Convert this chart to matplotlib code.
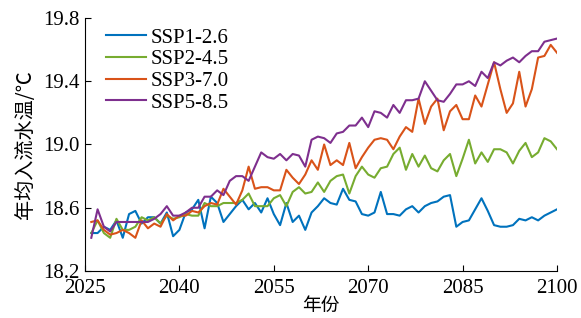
import matplotlib
matplotlib.use("Agg")
import matplotlib.pyplot as plt

years = list(range(2026, 2101))

ssp126 = [18.44, 18.44, 18.48, 18.46, 18.52, 18.41, 18.56, 18.58, 18.50, 18.54,
          18.54, 18.50, 18.57, 18.42, 18.46, 18.57, 18.59, 18.65, 18.47, 18.67,
          18.63, 18.51, 18.56, 18.61, 18.65, 18.59, 18.63, 18.57, 18.66, 18.56,
          18.49, 18.63, 18.51, 18.55, 18.46, 18.57, 18.61, 18.66, 18.63, 18.62,
          18.72, 18.65, 18.64, 18.56, 18.55, 18.57, 18.70, 18.56, 18.56, 18.55,
          18.59, 18.61, 18.57, 18.61, 18.63, 18.64, 18.67, 18.68, 18.48, 18.51,
          18.52, 18.59, 18.66, 18.58, 18.49, 18.48, 18.48, 18.49, 18.53, 18.52,
          18.54, 18.52, 18.55, 18.57, 18.59]

ssp245 = [18.44, 18.52, 18.44, 18.41, 18.53, 18.46, 18.46, 18.48, 18.54, 18.52,
          18.54, 18.50, 18.55, 18.53, 18.54, 18.56, 18.55, 18.55, 18.63, 18.61,
          18.61, 18.63, 18.63, 18.63, 18.65, 18.69, 18.61, 18.61, 18.61, 18.66,
          18.68, 18.61, 18.70, 18.73, 18.69, 18.70, 18.76, 18.70, 18.77, 18.80,
          18.81, 18.69, 18.80, 18.86, 18.81, 18.79, 18.85, 18.86, 18.94, 18.98,
          18.84, 18.94, 18.86, 18.93, 18.85, 18.83, 18.90, 18.94, 18.80, 18.91,
          19.03, 18.88, 18.95, 18.89, 18.97, 18.97, 18.95, 18.88, 18.96, 19.01,
          18.92, 18.95, 19.04, 19.02, 18.97]

ssp370 = [18.51, 18.52, 18.46, 18.43, 18.44, 18.46, 18.44, 18.41, 18.52, 18.47,
          18.50, 18.48, 18.56, 18.52, 18.55, 18.55, 18.58, 18.57, 18.61, 18.63,
          18.62, 18.72, 18.67, 18.62, 18.71, 18.86, 18.72, 18.73, 18.73, 18.71,
          18.71, 18.84, 18.79, 18.75, 18.81, 18.90, 18.84, 19.00, 18.87, 18.90,
          18.87, 19.01, 18.85, 18.92, 18.98, 19.03, 19.04, 19.03, 18.97, 19.05,
          19.11, 19.08, 19.29, 19.13, 19.24, 19.29, 19.09, 19.21, 19.25, 19.16,
          19.16, 19.31, 19.24, 19.38, 19.52, 19.35, 19.20, 19.26, 19.46, 19.24,
          19.35, 19.55, 19.56, 19.63, 19.58]

ssp585 = [18.41, 18.59, 18.48, 18.45, 18.51, 18.51, 18.51, 18.51, 18.51, 18.51,
          18.53, 18.56, 18.61, 18.55, 18.55, 18.57, 18.60, 18.60, 18.67, 18.67,
          18.71, 18.68, 18.77, 18.80, 18.80, 18.77, 18.86, 18.95, 18.92, 18.91,
          18.94, 18.90, 18.94, 18.93, 18.86, 19.03, 19.05, 19.04, 19.01, 19.07,
          19.08, 19.12, 19.12, 19.17, 19.11, 19.21, 19.20, 19.17, 19.25, 19.20,
          19.28, 19.28, 19.29, 19.40, 19.34, 19.28, 19.27, 19.32, 19.38, 19.38,
          19.40, 19.37, 19.46, 19.42, 19.52, 19.50, 19.53, 19.55, 19.52, 19.56,
          19.59, 19.59, 19.65, 19.66, 19.67]

labels = ["SSP1-2.6", "SSP2-4.5", "SSP3-7.0", "SSP5-8.5"]
colors = ["#0072BD", "#77AC30", "#D95319", "#7E2F8E"]

xticks = [2025, 2040, 2055, 2070, 2085, 2100]
yticks = [18.2, 18.6, 19.0, 19.4, 19.8]

plt.rcParams["font.family"] = ["Liberation Serif", "Noto Sans CJK SC"]
plt.rcParams["font.size"] = 15

fig = plt.figure(figsize=(5.81, 3.18), dpi=100)
ax = fig.add_axes([0.1463, 0.1478, 0.8124, 0.7956])

for series, lab, col in zip([ssp126, ssp245, ssp370, ssp585], labels, colors):
    ax.plot(years, series, color=col, lw=1.5, label=lab)

ax.set_xlim(2025, 2100)
ax.set_ylim(18.2, 19.8)
ax.set_xticks(xticks)
ax.set_yticks(yticks)
ax.set_yticklabels([f"{v:.1f}" for v in yticks])
ax.tick_params(direction="in", length=4.5, width=0.8, labelsize=15)
ax.tick_params(axis="x", pad=6)
ax.tick_params(axis="y", pad=4)
for side in ("top", "right"):
    ax.spines[side].set_visible(False)

ax.set_xlabel("年份", family=["Noto Sans CJK SC"], fontsize=13.5, labelpad=-2.5,
              fontweight="light")
ax.set_ylabel("年均入流水温/℃", family=["Noto Sans CJK SC"], fontsize=14.5,
              labelpad=5, fontweight="light")

ax.legend(loc="upper left", bbox_to_anchor=(0.045, 0.96), frameon=False,
          handlelength=1.9, labelspacing=0.1, handletextpad=0.25,
          borderaxespad=0, borderpad=0, fontsize=15)

fig.savefig("out.png", dpi=100)
